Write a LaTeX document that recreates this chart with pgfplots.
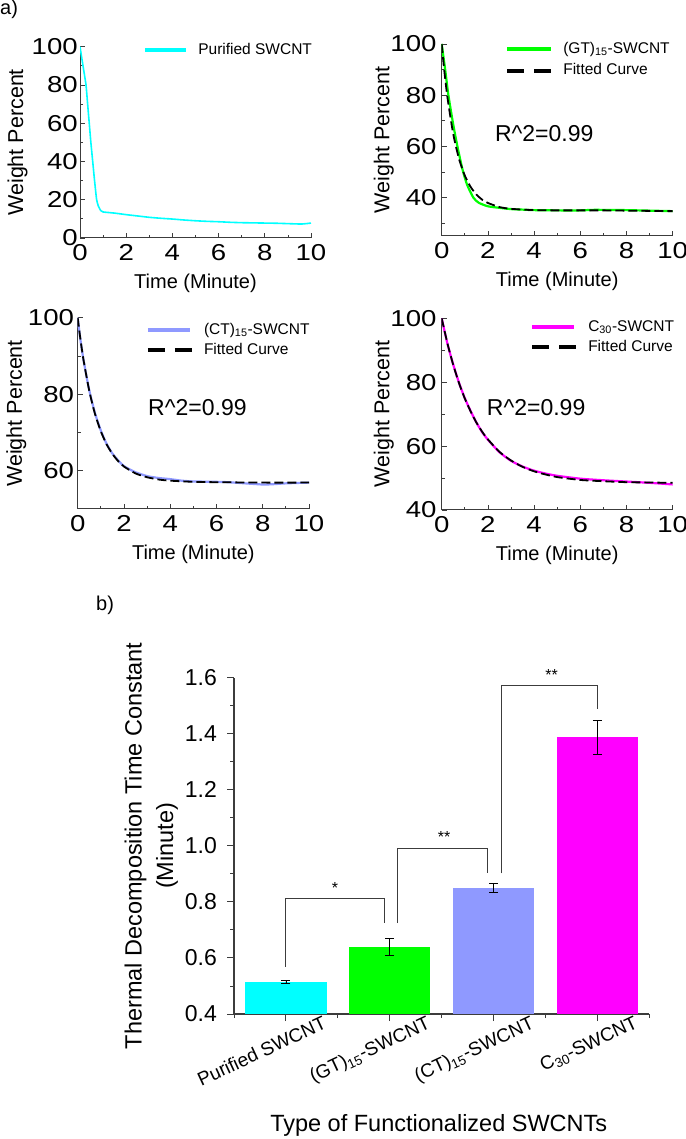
\documentclass[border=0pt]{standalone}
\usepackage{fontspec}
\setmainfont{Liberation Sans}
\newfontfamily\tickfont{Liberation Sans}[FakeStretch=1.2]
\usepackage{pgfplots}
\pgfplotsset{compat=1.18}
\definecolor{cCyan}{RGB}{0,255,255}
\definecolor{cGreen}{RGB}{0,255,0}
\definecolor{cBlue}{RGB}{143,153,255}
\definecolor{cMag}{RGB}{255,0,255}
\definecolor{axgray}{RGB}{60,60,60}
\pgfplotsset{
  smallplot/.style={
    scale only axis, xmin=0, xmax=10, xtick={0,2,4,6,8,10}, minor x tick num=1,
    axis x line=bottom, axis y line=left, axis line style={-, line width=1pt, axgray},
    tick style={axgray, line width=0.8pt}, major tick length=5pt, minor tick length=3pt, tick align=inside,
    ticklabel style={font=\tickfont\fontsize{23}{23}\selectfont},
    /pgf/number format/assume math mode=true,
    xticklabel style={inner sep=0pt, yshift=-6pt},
    xlabel={Time (Minute)}, ylabel={Weight Percent},
    every axis x label/.style={at={(axis description cs:0.5,-0.235)}, anchor=center, font=\fontsize{20}{20}\selectfont},
    legend style={draw=none, fill=none, inner sep=0pt, outer sep=0pt, anchor=north west,
      font=\fontsize{15.5}{16}\selectfont, nodes={inner sep=0pt, text height=11pt, text depth=3pt},
      column sep=10pt, row sep=6pt},
    legend cell align=left,
  },
  ylabpos/.style={every axis y label/.style={at={(axis description cs:#1,0.5)}, anchor=center, rotate=90, font=\fontsize{21.5}{21.5}\selectfont}},
  ylabsep/.style={yticklabel style={inner sep=0pt, xshift=-#1}},
  datacurve/.style={line width=2.2pt, smooth, tension=0.4},
  fitcurve/.style={black, line width=1.8pt, dash pattern=on 9pt off 4pt, smooth, tension=0.4,
    legend image code/.code={\draw[black, line width=4.3pt, dash pattern=on 17pt off 10pt] (0pt,0pt) -- (44pt,0pt);}},
}
\begin{document}
\begin{tikzpicture}[x=1pt,y=1pt]
\useasboundingbox (0,0) rectangle (685,1139);
\node[anchor=north west, inner sep=0pt, font=\fontsize{20}{20}\selectfont] at (0,1139) {a)};
\node[anchor=north west, inner sep=0pt, font=\fontsize{20}{20}\selectfont] at (96,543) {b)};

% ---------- Plot 1 ----------
\begin{axis}[smallplot, at={(80pt,901pt)}, anchor=south west, width=231pt, height=191.3pt,
  ymin=0, ymax=100, ytick={0,20,40,60,80,100}, minor y tick num=1,
  ylabpos=-0.27, ylabsep=2pt,
  legend style={at={(axis description cs:0.2727,1.019)}}]
\addplot[cCyan, line width=1.6pt, smooth, tension=0.3,
  legend image code/.code={\draw[cCyan, line width=4.3pt] (0pt,0pt) -- (41pt,0pt);}]
  coordinates {(0,100) (0.13,90) (0.26,80) (0.33,70) (0.40,60) (0.47,50) (0.55,40) (0.63,30) (0.72,20)
  (0.8,16.5) (0.9,14.3) (1.0,13.6) (1.5,13.0) (2,12.2) (2.5,11.5) (3,10.8) (3.5,10.3) (4,9.9) (4.5,9.4)
  (5,9.0) (5.5,8.7) (6,8.5) (6.5,8.2) (7,8.0) (7.5,7.9) (8,7.8) (8.5,7.7) (9,7.5) (9.6,7.3) (10,7.8)};
\addlegendentry{Purified SWCNT}
\end{axis}

% ---------- Plot 2 ----------
\begin{axis}[smallplot, at={(441.7pt,903pt)}, anchor=south west, width=231pt, height=192pt,
  ymin=25, ymax=100, ytick={40,60,80,100}, minor ytick={30,50,70,90},
  ylabpos=-0.251, ylabsep=5pt,
  legend style={at={(axis description cs:0.274,1.009)}, row sep=7.7pt}]
\addplot[cGreen, datacurve,
  legend image code/.code={\draw[cGreen, line width=4.3pt] (0pt,0pt) -- (44pt,0pt);}]
  coordinates {(0,100) (0.15,90) (0.29,80) (0.5,68.5) (0.68,60) (0.9,51) (1.1,45) (1.37,40) (1.6,38)
  (2,36.6) (2.5,36) (3,35.5) (3.5,35.3) (4,35.1) (5,35) (6,35) (6.5,35.2) (7,35.2) (8,35.1) (9,34.9) (10,34.7)};
\addlegendentry{(GT)\textsubscript{15}-SWCNT}
\addplot[fitcurve]
  coordinates {(0,100) (0.1,90.6) (0.25,79.0) (0.5,64.8) (0.75,55.1) (1.0,48.6) (1.25,44.2) (1.5,41.2)
  (1.75,39.2) (2,37.9) (2.5,36.3) (3,35.6) (4,35.1) (5,35.0) (6,35.0) (7,35.0) (8,34.9) (9,34.8) (10,34.7)};
\addlegendentry{Fitted Curve}
\node[anchor=west, inner sep=0pt, font=\fontsize{23}{23}\selectfont] at (axis cs:2.3,65) {R\^{}2=0.99};
\end{axis}

% ---------- Plot 3 ----------
\begin{axis}[smallplot, at={(77.7pt,630pt)}, anchor=south west, width=231.3pt, height=191.3pt,
  ymin=50, ymax=100, ytick={60,80,100}, minor ytick={70,90},
  ylabpos=-0.265, ylabsep=3.5pt,
  legend style={at={(axis description cs:0.294,0.972)}}]
\addplot[cBlue, datacurve,
  legend image code/.code={\draw[cBlue, line width=4.3pt] (0pt,0pt) -- (42.6pt,0pt);}]
  coordinates {(0,100) (0.1,95) (0.25,89) (0.5,81) (0.75,75) (1,70.5) (1.25,67) (1.5,64.5) (1.75,62.7)
  (2,61.2) (2.5,59.6) (3,58.6) (3.5,58.1) (4,57.8) (4.5,57.4) (5,57.2) (6,57.1) (6.5,57) (7,56.8)
  (8,56.4) (8.5,56.5) (9,56.7) (10,56.9)};
\addlegendentry{(CT)\textsubscript{15}-SWCNT}
\addplot[fitcurve]
  coordinates {(0,100) (0.1,95.2) (0.25,89) (0.5,80.9) (0.75,74.8) (1,70.3) (1.25,66.9) (1.5,64.4)
  (1.75,62.5) (2,61.1) (2.5,59.3) (3,58.3) (3.5,57.7) (4,57.4) (5,57.1) (6,57.0) (8,56.9) (10,56.9)};
\addlegendentry{Fitted Curve}
\node[anchor=west, inner sep=0pt, font=\fontsize{23}{23}\selectfont] at (axis cs:3.04,76.6) {R\^{}2=0.99};
\end{axis}

% ---------- Plot 4 ----------
\begin{axis}[smallplot, at={(441.7pt,629pt)}, anchor=south west, width=231pt, height=191.7pt,
  ymin=40, ymax=100, ytick={40,60,80,100}, minor ytick={50,70,90},
  ylabpos=-0.251, ylabsep=5pt,
  legend style={at={(axis description cs:0.382,0.990)}}]
\addplot[cMag, datacurve,
  legend image code/.code={\draw[cMag, line width=4.3pt] (0pt,0pt) -- (42.3pt,0pt);}]
  coordinates {(0,100) (0.25,92) (0.5,85.5) (0.75,79.8) (1,75) (1.25,71) (1.5,67.4) (1.75,64.4) (2,62)
  (2.5,58.1) (3,55.4) (3.5,53.6) (4,52.3) (4.5,51.4) (5,50.7) (6,49.8) (7,49.3) (8,48.9) (9,48.5) (10,48.0)};
\addlegendentry{C\textsubscript{30}-SWCNT}
\addplot[fitcurve]
  coordinates {(0,100) (0.25,92.1) (0.5,85.4) (0.75,79.7) (1,74.9) (1.25,70.9) (1.5,67.4) (1.75,64.5)
  (2,62.1) (2.5,58.2) (3,55.5) (3.5,53.5) (4,52.1) (4.5,51.1) (5,50.3) (6,49.4) (7,49.0) (8,48.7) (9,48.6) (10,48.5)};
\addlegendentry{Fitted Curve}
\node[anchor=west, inner sep=0pt, font=\fontsize{23}{23}\selectfont] at (axis cs:1.95,72.1) {R\^{}2=0.99};
\end{axis}

% ---------- Bar chart ----------
\begin{axis}[at={(234pt,125pt)}, anchor=south west, scale only axis, width=415.3pt, height=336.3pt,
  xmin=-0.5, xmax=3.5, ymin=0.4, ymax=1.6, clip mode=individual,
  xtick={0,1,2,3}, minor xtick={-0.5,0.5,1.5,2.5,3.5},
  xticklabels={Purified SWCNT,{(GT)\textsubscript{15}-SWCNT},{(CT)\textsubscript{15}-SWCNT},{C\textsubscript{30}-SWCNT}},
  ytick={0.4,0.6,0.8,1.0,1.2,1.4,1.6}, minor y tick num=1,
  axis x line=bottom, axis y line=left, axis line style={-, line width=1.2pt, axgray},
  tick style={axgray, line width=0.9pt}, major tick length=7pt, minor tick length=4pt, tick align=outside,
  /pgf/number format/assume math mode=true,
  /pgf/number format/fixed, /pgf/number format/fixed zerofill, /pgf/number format/precision=1,
  yticklabel style={font=\fontsize{23}{23}\selectfont, inner sep=0pt, xshift=-10pt},
  xticklabel style={font=\fontsize{19}{19}\selectfont, inner sep=0pt, xshift=36pt, yshift=6pt, rotate=25, anchor=north east},
  xlabel={Type of Functionalized SWCNTs},
  ylabel={Thermal Decomposition Time Constant\\(Minute)},
  every axis x label/.style={at={(axis description cs:0.493,-0.330)}, anchor=center, font=\fontsize{23.5}{23.5}\selectfont},
  every axis y label/.style={at={(axis description cs:-0.199,0.5)}, anchor=center, rotate=90, align=center, font=\fontsize{23.5}{31.6}\selectfont},
  errstyle/.style={error bars/.cd, y dir=both, y explicit,
    error bar style={black, line width=0.8pt}, error mark options={rotate=90, mark size=4.5pt, black, line width=0.8pt}},
]
\addplot[ybar, bar width=0.785, bar shift=0pt, fill=cCyan, draw=none, errstyle] coordinates {(0,0.514) +- (0,0.005)};
\addplot[ybar, bar width=0.785, bar shift=0pt, fill=cGreen, draw=none, errstyle] coordinates {(1,0.638) +- (0,0.030)};
\addplot[ybar, bar width=0.785, bar shift=0pt, fill=cBlue, draw=none, errstyle] coordinates {(2,0.850) +- (0,0.017)};
\addplot[ybar, bar width=0.785, bar shift=0pt, fill=cMag, draw=none, errstyle] coordinates {(3,1.388) +- (0,0.060)};
\addplot[axgray, line width=0.9pt, sharp plot] coordinates {(0,0.569) (0,0.813) (0.946,0.813) (0.946,0.724)};
\addplot[axgray, line width=0.9pt, sharp plot] coordinates {(1.07,0.724) (1.07,0.992) (1.94,0.992) (1.94,0.902)};
\addplot[axgray, line width=0.9pt, sharp plot] coordinates {(2.08,0.902) (2.08,1.571) (3,1.571) (3,1.488)};
\node[inner sep=0pt, font=\fontsize{16}{16}\selectfont, yshift=-3pt] at (axis cs:0.473,0.861) {*};
\node[inner sep=0pt, font=\fontsize{16}{16}\selectfont, yshift=-3pt] at (axis cs:1.523,1.042) {**};
\node[inner sep=0pt, font=\fontsize{16}{16}\selectfont, yshift=-3pt] at (axis cs:2.56,1.620) {**};
\end{axis}
\end{tikzpicture}
\end{document}
